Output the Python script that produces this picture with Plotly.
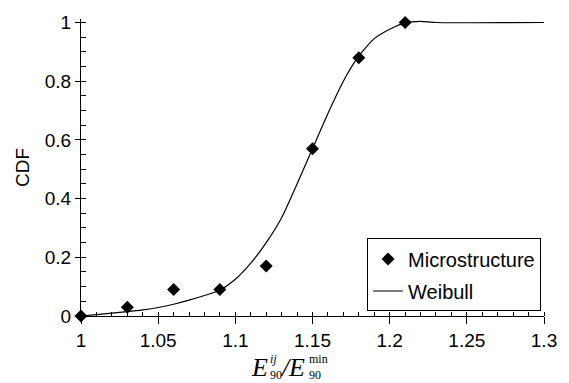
import plotly.graph_objects as go

# Data
micro_x = [1.00, 1.03, 1.06, 1.09, 1.12, 1.15, 1.18, 1.21]
micro_y = [0.0, 0.03, 0.09, 0.09, 0.17, 0.57, 0.88, 1.0]

weib_x = [1.00, 1.01, 1.02, 1.03, 1.04, 1.05, 1.06, 1.07, 1.08, 1.09, 1.10, 1.11,
          1.12, 1.13, 1.14, 1.15, 1.16, 1.17, 1.18, 1.19, 1.20, 1.21, 1.22, 1.23, 1.30]
weib_y = [0.0, 0.005, 0.01, 0.015, 0.021, 0.029, 0.04, 0.054, 0.07, 0.088, 0.125, 0.18,
          0.25, 0.335, 0.45, 0.57, 0.69, 0.80, 0.886, 0.945, 0.977, 0.999, 1.004, 1.0, 1.0]

x_ticks = [1, 1.05, 1.1, 1.15, 1.2, 1.25, 1.3]
x_ticklabels = ["1", "1.05", "1.1", "1.15", "1.2", "1.25", "1.3"]
y_ticks = [0, 0.2, 0.4, 0.6, 0.8, 1]
y_ticklabels = ["0", "0.2", "0.4", "0.6", "0.8", "1"]

SANS = "Liberation Sans, Arial, sans-serif"
SERIF = "Liberation Serif, Times New Roman, serif"

fig = go.Figure()
fig.add_trace(go.Scatter(
    x=micro_x, y=micro_y, mode="markers", name="Microstructure",
    marker=dict(symbol="diamond", size=10, color="black"),
    cliponaxis=False, legendgroup="a",
))
fig.add_trace(go.Scatter(
    x=weib_x, y=weib_y, mode="lines", name="Weibull",
    line=dict(color="black", width=1.2, shape="spline", smoothing=0.6),
    cliponaxis=False, legendgroup="b",
))

W, H = 569, 383
YTOP = 1.012
L, R, B = 81, 18, 67
y0_px = H - B              # pixel of y=0
y1_px = 20.7               # pixel of y=1
ph1 = y0_px - y1_px        # pixels per unit y
T = y1_px - (YTOP - 1) * ph1
pw = W - L - R
ph = H - T - B

def px(xp):
    return (xp - L) / pw

def py(yp):
    return (y0_px - yp) / ph

ann = []
def add(text, x, y, size, xanchor="center", italic=False):
    t = f"<i>{text}</i>" if italic else text
    ann.append(dict(text=t, x=px(x), y=py(y), xref="paper", yref="paper",
                    xanchor=xanchor, yanchor="middle", showarrow=False, align="left",
                    borderpad=0,
                    font=dict(family=SERIF, size=size, color="black")))

add("E", 262, 368, 26, italic=True)
add("<i>ij</i><br>90", 272, 367, 12, xanchor="left")
add("/", 289, 368, 26, italic=True)
add("E", 300, 368, 26, italic=True)
add("min<br>90", 311, 367, 12, xanchor="left")

fig.update_layout(
    width=W, height=H,
    margin=dict(l=L, r=R, t=T, b=B),
    paper_bgcolor="white", plot_bgcolor="white",
    font=dict(family=SANS, size=19, color="black"),
    showlegend=True,
    legend=dict(
        x=px(548), y=py(238), xanchor="right", yanchor="top",
        bordercolor="black", borderwidth=1, bgcolor="white",
        font=dict(family=SANS, size=20, color="black"),
        tracegroupgap=3,
    ),
    annotations=ann,
    xaxis=dict(
        range=[1, 1.3], tickvals=x_ticks, ticktext=x_ticklabels,
        showgrid=False, zeroline=False, showline=True, linecolor="black", linewidth=1,
        ticks="outside", ticklen=7, tickcolor="black", tickwidth=1,
        minor=dict(dtick=0.01, tick0=1, ticks="inside", ticklen=4, tickcolor="black", showgrid=False),
        tickfont=dict(family=SANS, size=19),
    ),
    yaxis=dict(
        range=[0, YTOP], tickvals=y_ticks, ticktext=y_ticklabels,
        showgrid=False, zeroline=False, showline=True, linecolor="black", linewidth=1,
        ticks="outside", ticklen=5, tickcolor="black", tickwidth=1,
        minor=dict(dtick=0.05, tick0=0, ticks="inside", ticklen=5, tickcolor="black", showgrid=False),
        tickfont=dict(family=SANS, size=19),
        title=dict(text="CDF", font=dict(family=SANS, size=19), standoff=10),
    ),
)

fig.write_html("out.html")
